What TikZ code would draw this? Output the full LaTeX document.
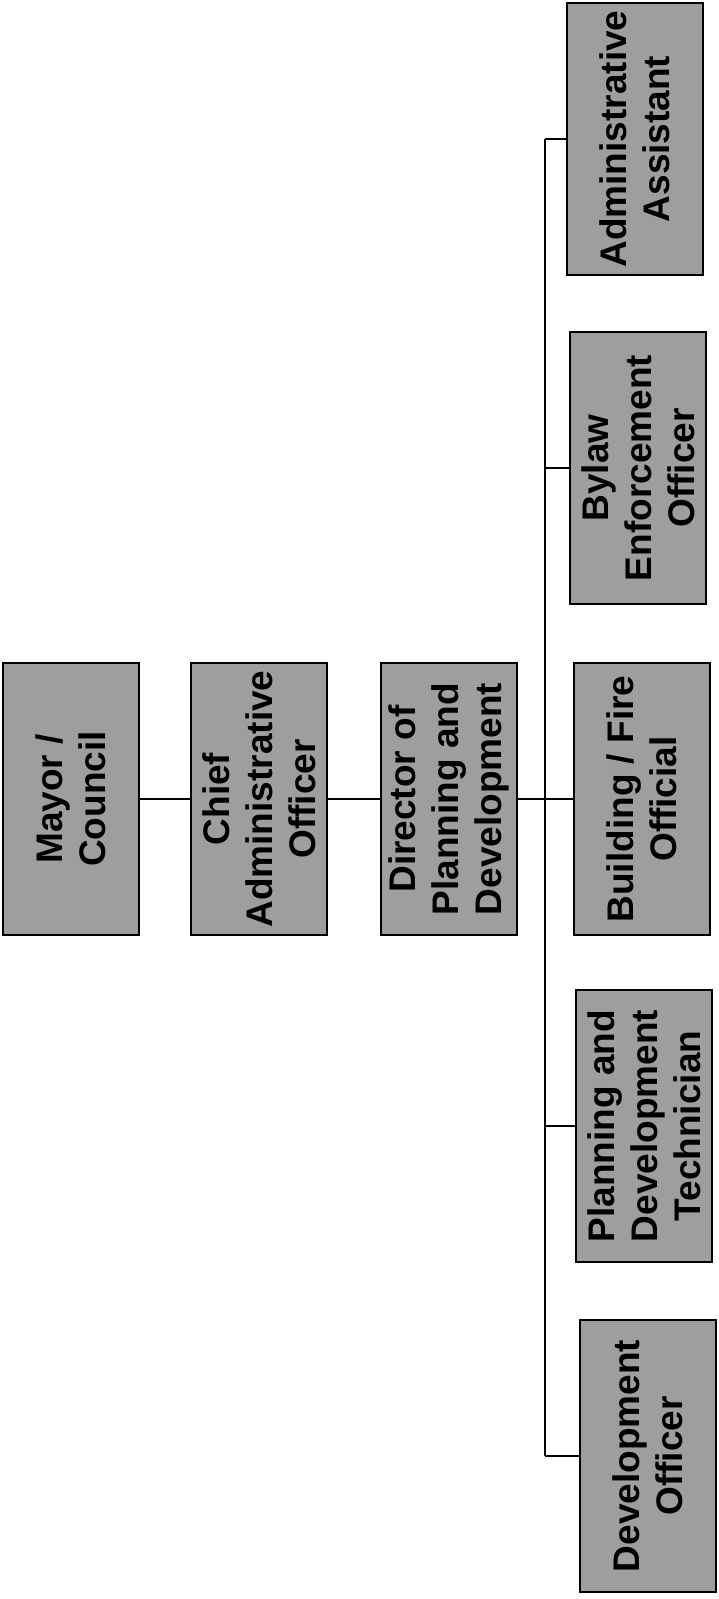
\documentclass[tikz,border=0pt]{standalone}
\usepackage{fontspec}
\setmainfont{Liberation Sans}
\begin{document}
\begin{tikzpicture}[x=0.5pt,y=-0.5pt,
  box/.style={draw=black, line width=1pt, fill=black!38, rotate=90,
    minimum width=136pt, minimum height=68pt, inner sep=0pt, align=center,
    font=\fontsize{18.5}{21.5}\selectfont\bfseries},
  conn/.style={line width=1pt}]
\useasboundingbox (0,0) rectangle (718,1599);
\node[box] (mayor) at (70.5,799) {Mayor /\\Council};
\node[box] (chief) at (259,799) {Chief\\Administrative\\Officer};
\node[box] (dir) at (448.5,799) {Director of\\Planning and\\Development};
\node[box] (aa) at (635,139) {Administrative\\Assistant};
\node[box] (bylaw) at (638,468) {Bylaw\\Enforcement\\Officer};
\node[box] (build) at (642,799) {Building / Fire\\Official};
\node[box] (pdt) at (644,1126) {Planning and\\Development\\Technician};
\node[box] (devoff) at (648,1456) {Development\\Officer};
\coordinate (bus) at (545,0);
\draw[conn] (mayor.south) -- (chief.north);
\draw[conn] (chief.south) -- (dir.north);
\draw[conn] (dir.south) -- (dir.south -| bus);
\draw[conn] (aa.north -| bus) -- (devoff.north -| bus);
\foreach \n in {aa,bylaw,build,pdt,devoff}
  \draw[conn] (\n.north -| bus) -- (\n.north);
\end{tikzpicture}
\end{document}
